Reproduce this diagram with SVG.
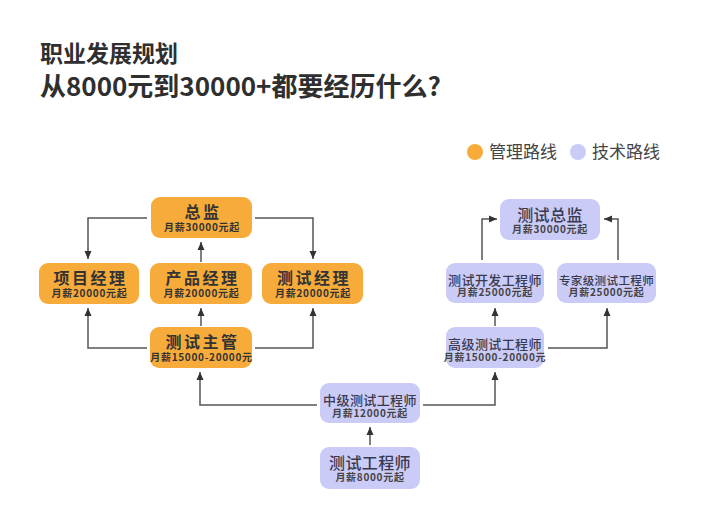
<svg xmlns="http://www.w3.org/2000/svg" width="720" height="520" viewBox="0 0 720 520">
<style>
.t{font-family:"Noto Sans CJK SC","Noto Sans",sans-serif;text-anchor:middle}
.title{font-family:"Noto Sans CJK SC","Noto Sans",sans-serif;font-weight:700;fill:#2f2f2f}
.leg{font-family:"Noto Sans CJK SC","Noto Sans",sans-serif;font-size:17px;fill:#444}
.o{fill:#F7AB3B}
.p{fill:#CBCBF7}
.oh{font-size:16px;font-weight:700;fill:#333;letter-spacing:2.5px}
.os{font-size:10px;font-weight:700;fill:#333;letter-spacing:0.7px}
.ph{font-weight:500;fill:#3a3a4c;letter-spacing:0.4px}
.ps{font-size:10px;font-weight:700;fill:#444;letter-spacing:0.7px}
.c{fill:none;stroke:#555;stroke-width:1.5}
</style>
<defs>
<marker id="ar" viewBox="0 0 8 8" refX="8" refY="4" markerWidth="8" markerHeight="8" markerUnits="userSpaceOnUse" orient="auto">
<path d="M0,0.5 L8,4 L0,7.5 z" fill="#333"/>
</marker>
</defs>
<rect width="720" height="520" fill="#fff"/>
<text class="title" x="40" y="62" font-size="23">职业发展规划</text>
<text class="title" x="40" y="96" font-size="26">从8000元到30000+都要经历什么?</text>
<g id="legend">
<circle cx="475" cy="152" r="8" fill="#F7AB3B"/>
<text class="leg" x="489" y="158">管理路线</text>
<circle cx="578" cy="152" r="8" fill="#CBCBF7"/>
<text class="leg" x="592" y="158">技术路线</text>
</g>
<g id="connectors">
<path class="c" d="M147,218 H88 V259" marker-end="url(#ar)"/>
<path class="c" d="M255,218 H313 V259" marker-end="url(#ar)"/>
<path class="c" d="M201,262 V242" marker-end="url(#ar)"/>
<path class="c" d="M201,326 V308" marker-end="url(#ar)"/>
<path class="c" d="M147,348 H88 V308" marker-end="url(#ar)"/>
<path class="c" d="M255,348 H313 V308" marker-end="url(#ar)"/>
<path class="c" d="M317,405 H200 V372" marker-end="url(#ar)"/>
<path class="c" d="M423,405 H495 V372" marker-end="url(#ar)"/>
<path class="c" d="M370,445 V427" marker-end="url(#ar)"/>
<path class="c" d="M495,326 V308" marker-end="url(#ar)"/>
<path class="c" d="M548,348 H607 V308" marker-end="url(#ar)"/>
<path class="c" d="M482,260 V219 H497" marker-end="url(#ar)"/>
<path class="c" d="M618,260 V219 H604" marker-end="url(#ar)"/>
</g>
<g id="n-zongjian">
<rect class="o" x="151" y="197" width="101" height="41" rx="9"/>
<text class="t oh" x="203" y="217.5">总监</text>
<text class="t os" x="202" y="230.5">月薪30000元起</text>
</g>
<g id="n-xiangmu">
<rect class="o" x="39" y="263" width="100" height="41" rx="9"/>
<text class="t oh" x="90.5" y="284">项目经理</text>
<text class="t os" x="89.5" y="296.5">月薪20000元起</text>
</g>
<g id="n-chanpin">
<rect class="o" x="150" y="263" width="102" height="41" rx="9"/>
<text class="t oh" x="202.5" y="284">产品经理</text>
<text class="t os" x="201.5" y="296.5">月薪20000元起</text>
</g>
<g id="n-ceshijingli">
<rect class="o" x="262" y="263" width="101" height="41" rx="9"/>
<text class="t oh" x="314" y="284">测试经理</text>
<text class="t os" x="313" y="296.5">月薪20000元起</text>
</g>
<g id="n-zhuguan">
<rect class="o" x="150" y="327" width="102" height="41" rx="9"/>
<text class="t oh" x="202.5" y="348">测试主管</text>
<text class="t os" x="201.5" y="360.5">月薪15000-20000元</text>
</g>
<g id="n-ceshizongjian">
<rect class="p" x="500" y="199" width="100" height="41" rx="9"/>
<text class="t ph" x="550" y="221" font-size="16">测试总监</text>
<text class="t ps" x="550" y="233">月薪30000元起</text>
</g>
<g id="n-ceshikaifa">
<rect class="p" x="446" y="263" width="98" height="40" rx="9"/>
<text class="t ph" x="495" y="284.5" font-size="13">测试开发工程师</text>
<text class="t ps" x="495" y="296">月薪25000元起</text>
</g>
<g id="n-zhuanjia">
<rect class="p" x="557" y="263" width="99" height="40" rx="9"/>
<text class="t ph" x="606.5" y="284.5" font-size="11.5">专家级测试工程师</text>
<text class="t ps" x="606.5" y="296">月薪25000元起</text>
</g>
<g id="n-gaoji">
<rect class="p" x="446" y="327" width="98" height="41" rx="9"/>
<text class="t ph" x="495" y="348.5" font-size="13">高级测试工程师</text>
<text class="t ps" x="495" y="360.5">月薪15000-20000元</text>
</g>
<g id="n-zhongji">
<rect class="p" x="320" y="383" width="100" height="40" rx="9"/>
<text class="t ph" x="370" y="404.5" font-size="13">中级测试工程师</text>
<text class="t ps" x="370" y="416.5">月薪12000元起</text>
</g>
<g id="n-ceshigongchengshi">
<rect class="p" x="320" y="447" width="100" height="42" rx="9"/>
<text class="t ph" x="370" y="468.5" font-size="16">测试工程师</text>
<text class="t ps" x="370" y="481">月薪8000元起</text>
</g>
</svg>
